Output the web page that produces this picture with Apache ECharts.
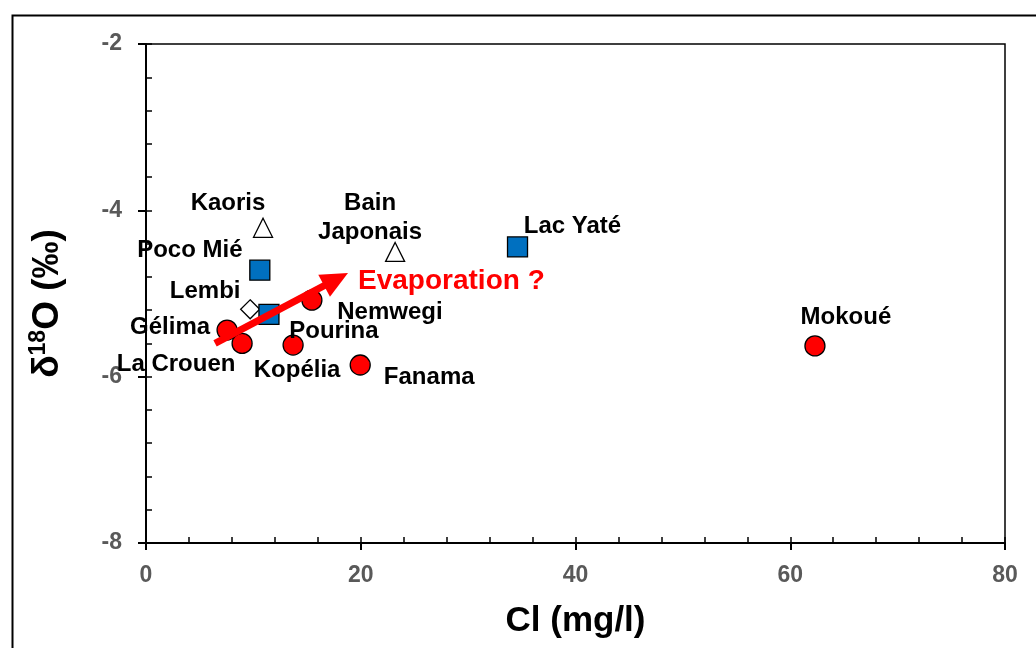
<!DOCTYPE html>
<html>
<head>
<meta charset="utf-8">
<script src="https://cdn.jsdelivr.net/npm/echarts@6/dist/echarts.min.js"></script>
<style>
html,body{margin:0;padding:0;background:#fff;}
#chart{width:1036px;height:648px;}
</style>
</head>
<body>
<div id="chart"></div>
<script>
// ---- data ----
const circleSites = ['Gélima', 'La Crouen', 'Kopélia', 'Nemwegi', 'Fanama', 'Mokoué'];
const circleCl = [7.55, 8.95, 13.7, 15.45, 19.95, 62.3];
const circleO18 = [-5.44, -5.60, -5.62, -5.08, -5.86, -5.63];

const squareSites = ['Poco Mié', 'Pourina', 'Lac Yaté'];
const squareCl = [10.6, 11.45, 34.6];
const squareO18 = [-4.72, -5.25, -4.44];

const triangleSites = ['Kaoris', 'Bain\nJaponais'];
const triangleCl = [10.9, 23.2];
const triangleO18 = [-4.21, -4.50];

const diamondSites = ['Lembi'];
const diamondCl = [9.7];
const diamondO18 = [-5.19];

const arrowStart = [6.43, -5.60];
const arrowEnd = [17.7, -4.83];
const arrowText = 'Evaporation ?';

const xTicks = [0, 20, 40, 60, 80];
const yTicks = [-8, -6, -4, -2];

// ---- layout (label placement, px offsets from marker centre) ----
const labelOffsets = {
  'Gélima': [-57, -3],
  'La Crouen': [-66, 21],
  'Kopélia': [4, 25],
  'Nemwegi': [78, 12],
  'Fanama': [69, 12],
  'Mokoué': [31, -29],
  'Poco Mié': [-70, -20],
  'Pourina': [65, 17],
  'Lac Yaté': [55, -21],
  'Kaoris': [-35, -24],
  'Bain\nJaponais': [-25, -34],
  'Lembi': [-45, -18]
};

const FONT = '"Liberation Sans", Arial, sans-serif';

function pts(names, xs, ys) {
  return names.map((n, i) => ({
    name: n,
    value: [xs[i], ys[i]],
    label: { offset: labelOffsets[n] || [0, 0] }
  }));
}

const labelStyle = {
  show: true,
  position: 'inside',
  formatter: p => p.name,
  fontFamily: FONT,
  fontWeight: 'bold',
  fontSize: 24,
  lineHeight: 29,
  color: '#000',
  opacity: 1,
  align: 'center',
  verticalAlign: 'middle'
};

const chart = echarts.init(document.getElementById('chart'), null, { renderer: 'canvas' });

const option = {
  backgroundColor: '#fff',
  animation: false,
  graphic: [{
    type: 'rect',
    left: 10, top: 13,
    shape: { width: 1100, height: 700 },
    style: { fill: 'none', stroke: '#000', lineWidth: 2 },
    silent: true
  }],
  grid: {
    left: 146, right: 31, top: 44, bottom: 105,
    show: true, borderColor: '#000', borderWidth: 1.5,
    backgroundColor: 'transparent'
  },
  xAxis: [{
    type: 'value', min: xTicks[0], max: xTicks[xTicks.length - 1], interval: 20,
    position: 'bottom',
    name: 'Cl (mg/l)', nameLocation: 'middle', nameGap: 61,
    nameTextStyle: { fontFamily: FONT, fontWeight: 'bold', fontSize: 35, color: '#000' },
    axisLine: { show: true, onZero: false, lineStyle: { color: '#000', width: 2 } },
    axisTick: { show: true, inside: false, length: 7, lineStyle: { color: '#000', width: 2 } },
    axisLabel: { margin: 21, fontFamily: FONT, fontWeight: 'bold', fontSize: 23, color: '#595959' },
    splitLine: { show: false }
  }, {
    type: 'value', min: xTicks[0], max: xTicks[xTicks.length - 1], interval: 4,
    position: 'bottom', gridIndex: 0,
    axisLine: { show: false },
    axisTick: { show: true, inside: true, length: 6, lineStyle: { color: '#000', width: 1.5 } },
    axisLabel: { show: false },
    splitLine: { show: false }
  }],
  yAxis: [{
    type: 'value', min: yTicks[0], max: yTicks[yTicks.length - 1], interval: 2,
    position: 'left',
    name: '{n|δ}{s|18}{n|O (‰)}', nameLocation: 'middle', nameGap: 77, nameRotate: 90,
    nameTextStyle: {
      fontFamily: FONT, fontWeight: 'bold', fontSize: 37, color: '#000',
      padding: [0, 20, 0, 0],
      rich: {
        n: { fontFamily: FONT, fontWeight: 'bold', fontSize: 37, color: '#000', lineHeight: 42 },
        s: { fontFamily: FONT, fontWeight: 'bold', fontSize: 23, color: '#000', lineHeight: 23, verticalAlign: 'top' }
      }
    },
    axisLine: { show: true, onZero: false, lineStyle: { color: '#000', width: 2 } },
    axisTick: { show: true, inside: false, length: 8, lineStyle: { color: '#000', width: 2 } },
    axisLabel: { margin: 24, fontFamily: FONT, fontWeight: 'bold', fontSize: 23, color: '#595959' },
    splitLine: { show: false }
  }, {
    type: 'value', min: yTicks[0], max: yTicks[yTicks.length - 1], interval: 0.4,
    position: 'left', gridIndex: 0,
    axisLine: { show: false },
    axisTick: { show: true, inside: true, length: 6, lineStyle: { color: '#000', width: 1.5 } },
    axisLabel: { show: false },
    splitLine: { show: false }
  }],
  series: [
    {
      type: 'scatter', name: 'triangles', symbol: 'triangle', symbolSize: 19,
      itemStyle: { color: '#fff', borderColor: '#000', borderWidth: 1.3, opacity: 1 },
      label: labelStyle,
      data: pts(triangleSites, triangleCl, triangleO18)
    },
    {
      type: 'scatter', name: 'diamond', symbol: 'diamond', symbolSize: 19,
      itemStyle: { color: '#fff', borderColor: '#000', borderWidth: 1.3, opacity: 1 },
      label: labelStyle,
      data: pts(diamondSites, diamondCl, diamondO18)
    },
    {
      type: 'scatter', name: 'squares', symbol: 'rect', symbolSize: 20,
      itemStyle: { color: '#0070C0', borderColor: '#000', borderWidth: 1.3, opacity: 1 },
      label: labelStyle,
      data: pts(squareSites, squareCl, squareO18)
    },
    {
      type: 'scatter', name: 'circles', symbol: 'circle', symbolSize: 20,
      itemStyle: { color: '#FF0000', borderColor: '#000', borderWidth: 1.3, opacity: 1 },
      label: labelStyle,
      data: pts(circleSites, circleCl, circleO18)
    },
    {
      type: 'scatter', name: 'arrow', z: 5,
      symbolSize: 0,
      itemStyle: { opacity: 1 },
      data: [{ value: arrowEnd, name: arrowText }],
      label: {
        show: true, position: 'right', distance: 5, offset: [17, 2],
        formatter: p => p.name, opacity: 1,
        fontFamily: FONT, fontWeight: 'bold', fontSize: 28, color: '#FF0000'
      },
      markLine: {
        silent: true,
        animation: false,
        symbol: ['none', 'triangle'],
        symbolSize: [25, 27],
        label: { show: false },
        lineStyle: { color: '#FF0000', width: 7, type: 'solid', opacity: 1 },
        itemStyle: { color: '#FF0000', opacity: 1 },
        data: [[{ coord: arrowStart }, { coord: arrowEnd }]]
      }
    }
  ]
};
chart.setOption(option);
</script>
</body>
</html>
